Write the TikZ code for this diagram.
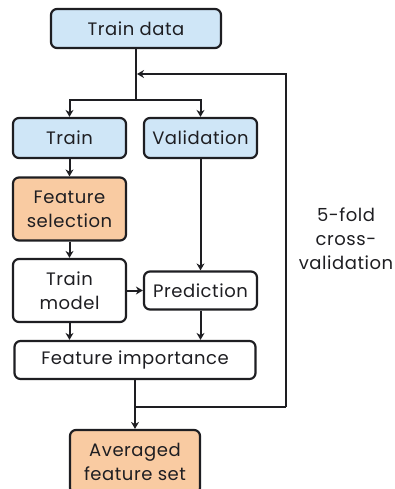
\documentclass[tikz,border=0pt]{standalone}
\usepackage{fontspec}
\setmainfont[LetterSpace=3]{Poppins}
\usetikzlibrary{arrows.meta}
\definecolor{boxblue}{HTML}{CFE6F7}
\definecolor{boxorange}{HTML}{F9CBA2}
\definecolor{ink}{HTML}{1E1E22}
\tikzset{
  box/.style={draw=ink, line width=2.2pt, rounded corners=6pt, align=center, text=ink,
    font=\fontsize{18}{24}\selectfont, inner sep=0pt},
  bluebox/.style={box, fill=boxblue},
  orangebox/.style={box, fill=boxorange},
  whitebox/.style={box, fill=white},
  arr/.style={draw=ink, line width=2pt, -{Stealth[length=7pt,width=8pt]}},
  ln/.style={draw=ink, line width=2pt},
}
\begin{document}
\begin{tikzpicture}[x=1pt,y=-1pt]
\useasboundingbox (0,0) rectangle (394,489);
\clip (0,0) rectangle (394,489);
\node[bluebox, minimum width=170pt, minimum height=39pt] (traindata) at (136,28.5) {Train data};
\node[bluebox, minimum width=113pt, minimum height=40pt] (train) at (69.5,138) {Train};
\node[bluebox, minimum width=113pt, minimum height=40pt] (valid) at (200.5,138) {Validation};
\node[orangebox, minimum width=113pt, minimum height=63pt] (featsel) at (69.5,209) {Feature\\selection};
\node[whitebox, minimum width=113pt, minimum height=63pt] (trainmodel) at (69.5,290.5) {Train\\model};
\node[whitebox, minimum width=113pt, minimum height=38pt] (pred) at (200.5,290.5) {Prediction};
\node[whitebox, minimum width=241pt, minimum height=38pt] (featimp) at (135,360) {Feature importance};
\node[orangebox, minimum width=130pt, minimum height=64pt] (avg) at (135,462) {Averaged\\feature set};
\node[align=center, text=ink, font=\fontsize{18}{24}\selectfont] (cv) at (346,239) {5-fold\\cross-\\validation};

\coordinate (split) at (136,100);
\coordinate (fbtop) at (286,74);
\coordinate (fbend) at (137,74);
\coordinate (fbbot) at (286,407);
\coordinate (fbjoin) at (135,407);

\draw[ln] (traindata.south) -- (split);
\draw[arr] (split) -| (train.north);
\draw[arr] (split) -| (valid.north);
\draw[arr] (train.south) -- (featsel.north);
\draw[arr] (featsel.south) -- (trainmodel.north);
\draw[arr] (valid.south) -- (pred.north);
\draw[arr] (trainmodel.east) -- (pred.west);
\draw[arr] (trainmodel.south) -- (trainmodel.south |- featimp.north);
\draw[arr] (pred.south) -- (pred.south |- featimp.north);
\draw[arr] (featimp.south) -- (avg.north);
\draw[ln] (fbjoin) -- (fbbot);
\draw[arr] (fbbot) -- (fbtop) -- (fbend);
\end{tikzpicture}
\end{document}
